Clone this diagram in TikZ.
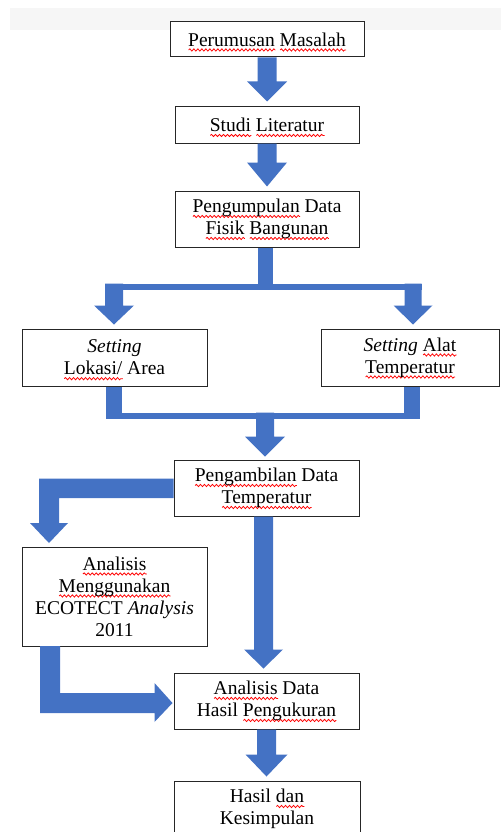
\documentclass[tikz,border=0pt]{standalone}
\usepackage{fontspec}
\setmainfont{Liberation Serif}
\usetikzlibrary{calc,decorations.pathmorphing}
\definecolor{arrowblue}{RGB}{68,114,196}
\definecolor{bandgray}{RGB}{246,246,246}
\newsavebox\sqbox
\newdimen\sqwd
% red wavy spell-check underline under a word
\newcommand\sq[1]{\sbox\sqbox{#1}\sqwd=\wd\sqbox
  \rlap{\smash{\tikz[baseline=0pt]\draw[red, line width=0.8pt,
    decorate, decoration={snake, amplitude=1.1pt, segment length=4pt}]
    (0pt,-3.8pt) -- (\the\sqwd,-3.8pt);}}\usebox\sqbox}
% down block arrow: #1 start, #2 tip, #3 shaft half width, #4 head half width, #5 head length
\newcommand\dnblk[5]{%
  \fill[blk] ($(#1)+(-#3,0)$) -- ($(#1)+(#3,0)$) -- ($(#2)+(#3,-#5)$) -- ($(#2)+(#4,-#5)$)
    -- (#2) -- ($(#2)+(-#4,-#5)$) -- ($(#2)+(-#3,-#5)$) -- cycle;}
\tikzset{
  box/.style={draw=black!85, line width=1pt, fill=white, align=center, inner sep=0pt,
    font=\fontsize{19.5}{22}\selectfont},
  blk/.style={fill=arrowblue}
}
\begin{document}
\begin{tikzpicture}[x=1pt, y=-1pt]
\useasboundingbox (0,0) rectangle (501,832);
\clip (0,0) rectangle (501,832);
\fill[bandgray] (10,8) rectangle (501,30);

% nodes
\node[box, minimum width=194, minimum height=35] (n1) at (267,39.5) {\sq{Perumusan} \sq{Masalah}};
\node[box, minimum width=184, minimum height=36] (n2) at (267,125) {\sq{Studi} \sq{Literatur}};
\node[box, minimum width=184, minimum height=56] (n3) at (267,219) {\sq{Pengumpulan} Data\\\sq{Fisik} \sq{Bangunan}};
\node[box, minimum width=185, minimum height=57] (n4) at (114.5,357.5) {\textit{Setting}\\\sq{Lokasi/} Area};
\node[box, minimum width=178, minimum height=57] (n5) at (410,357.5) {\textit{Setting} \sq{Alat}\\\sq{Temperatur}};
\node[box, minimum width=185, minimum height=56] (n6) at (266.5,488) {\sq{Pengambilan} Data\\\sq{Temperatur}};
\node[box, minimum width=185, minimum height=99] (n7) at (114.5,596.5) {\sq{Analisis}\\\sq{Menggunakan}\\ECOTECT \textit{Analysis}\\2011};
\node[box, minimum width=185, minimum height=56] (n8) at (266.5,701) {\sq{Analisis} Data\\Hasil \sq{Pengukuran}};
\node[box, minimum width=186, minimum height=56] (n9) at (267,809) {Hasil \sq{dan}\\Kesimpulan};

% straight arrows
\coordinate (t2) at ($(n2.north)+(0,-5)$);
\dnblk{n1.south}{t2}{9.5}{20}{20}
\coordinate (t3) at ($(n3.north)+(0,-4)$);
\dnblk{n2.south}{t3}{9.5}{20}{24}
\coordinate (s8) at ($(n6.south)+(-3,0)$);
\coordinate (t8) at ($(n8.north)+(-3,-4)$);
\dnblk{s8}{t8}{9.5}{19.5}{19}
\coordinate (t9) at ($(n9.north)+(-0.5,-4)$);
\dnblk{n8.south}{t9}{9.5}{21}{22}

% split: n3 -> n4, n5
\coordinate (sp) at ($(n3.south)+(-1,36)$);
\coordinate (t4) at ($(n4.north)+(-0.5,-4)$);
\coordinate (t5) at ($(n5.north)+(3,-4)$);
\fill[blk] ($(n3.south)+(-9,0)$) rectangle ($(sp)+(7,0)$);
\fill[blk] ($(sp -| t4)+(-9,0)$) rectangle ($(sp -| t5)+(8.5,6)$);
\dnblk{sp -| t4}{t4}{9}{20}{19}
\dnblk{sp -| t5}{t5}{8.5}{19.5}{19}

% merge: n4, n5 -> n6
\coordinate (mg) at ($(n4.south)+(0,26)$);
\coordinate (t6) at ($(n6.north)+(-1.5,-3)$);
\fill[blk] ($(n4.south)+(-8.5,0)$) rectangle ($(mg)+(7.5,6)$);
\fill[blk] ($(n5.south)+(-6,0)$) rectangle ($(n5.south |- mg)+(10,6)$);
\fill[blk] ($(mg)+(-8.5,0)$) rectangle ($(n5.south |- mg)+(10,6)$);
\dnblk{mg -| t6}{t6}{9}{20}{20}

% branch: n6 -> n7
\coordinate (t7) at (49,543);
\fill[blk] ($(n6.west)+(0,-9.5)$) -- ($(t7 |- n6.west)+(-10,-9.5)$) -- ($(t7)+(-10,-20)$)
  -- ($(t7)+(-19,-20)$) -- (t7) -- ($(t7)+(19,-20)$) -- ($(t7)+(10,-20)$)
  -- ($(t7 |- n6.west)+(10,10)$) -- ($(n6.west)+(0,10)$) -- cycle;

% branch: n7 -> n8
\coordinate (c7) at (50,646);
\coordinate (t10) at ($(n8.west)+(-1,2)$);
\fill[blk] ($(c7)+(-10,0)$) -- ($(c7)+(10,0)$) -- ($(c7 |- t10)+(10,-10)$) -- ($(t10)+(-18,-10)$)
  -- ($(t10)+(-18,-20)$) -- (t10) -- ($(t10)+(-18,19)$) -- ($(t10)+(-18,10)$)
  -- ($(c7 |- t10)+(-10,10)$) -- cycle;
\end{tikzpicture}
\end{document}
